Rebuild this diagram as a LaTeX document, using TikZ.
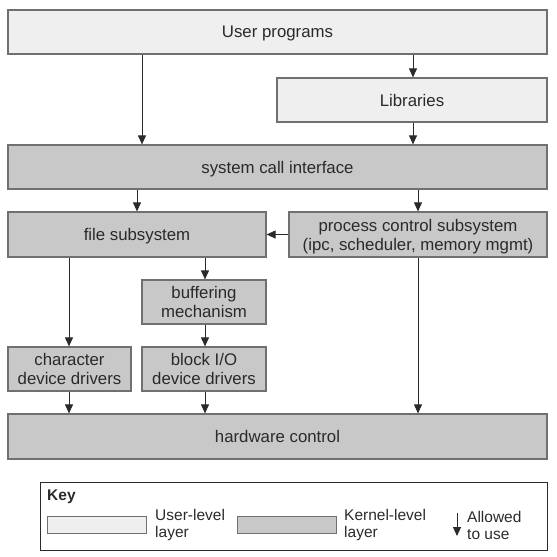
\documentclass[tikz,border=0pt]{standalone}
\usepackage{fontspec}
\setmainfont{Liberation Sans}
\usetikzlibrary{arrows.meta}
\definecolor{userfill}{HTML}{EEEFEE}
\definecolor{kernfill}{HTML}{C8C8C8}
\definecolor{edge}{HTML}{707070}
\definecolor{ink}{HTML}{2A2A2A}
\tikzset{
  box/.style={draw=edge, line width=1.2pt, inner sep=0pt, align=center, text=ink,
    text depth=0pt, font=\fontsize{16.8}{19}\selectfont},
  userbox/.style={box, fill=userfill},
  kernbox/.style={box, fill=kernfill},
  arr/.style={draw=ink, line width=0.9pt, -{Triangle[width=8pt,length=9pt]}},
  keytext/.style={text=ink, font=\fontsize{15.5}{17}\selectfont, align=left, anchor=west, inner sep=0pt},
}
\begin{document}
\begin{tikzpicture}[x=1pt,y=-1pt]
\useasboundingbox (0,0) rectangle (557,557);
% boxes
\node[userbox, minimum width=539pt, minimum height=44pt] (up) at (277.5,32) {User programs};
\node[userbox, minimum width=270pt, minimum height=44pt] (lib) at (412,100) {Libraries};
\node[kernbox, minimum width=539pt, minimum height=44pt] (sci) at (277.5,167) {system call interface};
\node[kernbox, minimum width=258pt, minimum height=45pt] (fs) at (137,234.5) {file subsystem};
\node[kernbox, minimum width=258pt, minimum height=45pt] (pcs) at (418,234.5) {process control subsystem\\(ipc, scheduler, memory mgmt)};
\node[kernbox, minimum width=124pt, minimum height=44pt] (buf) at (204,302) {buffering\\mechanism};
\node[kernbox, minimum width=123pt, minimum height=44pt] (chr) at (69.5,369) {character\\device drivers};
\node[kernbox, minimum width=124pt, minimum height=44pt] (blk) at (204,369) {block I/O\\device drivers};
\node[kernbox, minimum width=539pt, minimum height=45pt] (hw) at (277.5,436.5) {hardware control};
% column coordinates
\coordinate (cA) at (142,0);
\coordinate (cB) at (413,0);
\coordinate (cC) at (137,0);
\coordinate (cD) at (418,0);
\coordinate (cE) at (69,0);
\coordinate (cF) at (205,0);
% arrows
\draw[arr] (up.south -| cA) -- (sci.north -| cA);
\draw[arr] (up.south -| cB) -- (lib.north -| cB);
\draw[arr] (lib.south -| cB) -- (sci.north -| cB);
\draw[arr] (sci.south -| cC) -- (fs.north -| cC);
\draw[arr] (sci.south -| cD) -- (pcs.north -| cD);
\draw[arr] (pcs.west) -- (fs.east);
\draw[arr] (pcs.south -| cD) -- (hw.north -| cD);
\draw[arr] (fs.south -| cE) -- (chr.north -| cE);
\draw[arr] (fs.south -| cF) -- (buf.north -| cF);
\draw[arr] (buf.south -| cF) -- (blk.north -| cF);
\draw[arr] (chr.south -| cE) -- (hw.north -| cE);
\draw[arr] (blk.south -| cF) -- (hw.north -| cF);
% key
\node[draw=ink, line width=0.9pt, minimum width=507pt, minimum height=68pt, inner sep=0pt] (key) at (293.5,516) {};
\node[text=ink, font=\bfseries\fontsize{15.5}{17}\selectfont, anchor=west, inner sep=0pt] (keyt) at (47,497) {Key};
\node[userbox, line width=1pt, minimum width=99pt, minimum height=17pt] (ku) at (96.5,524.5) {};
\node[keytext] (kut) at (155,525) {User-level\\layer};
\node[kernbox, line width=1pt, minimum width=99pt, minimum height=17pt] (kk) at (286.5,524.5) {};
\node[keytext] (kkt) at (344,525) {Kernel-level\\layer};
\coordinate (ka) at (457,513);
\coordinate (kb) at (457,536);
\draw[arr] (ka) -- (kb);
\node[keytext] (kat) at (467,525) {Allowed\\to use};
\end{tikzpicture}
\end{document}
